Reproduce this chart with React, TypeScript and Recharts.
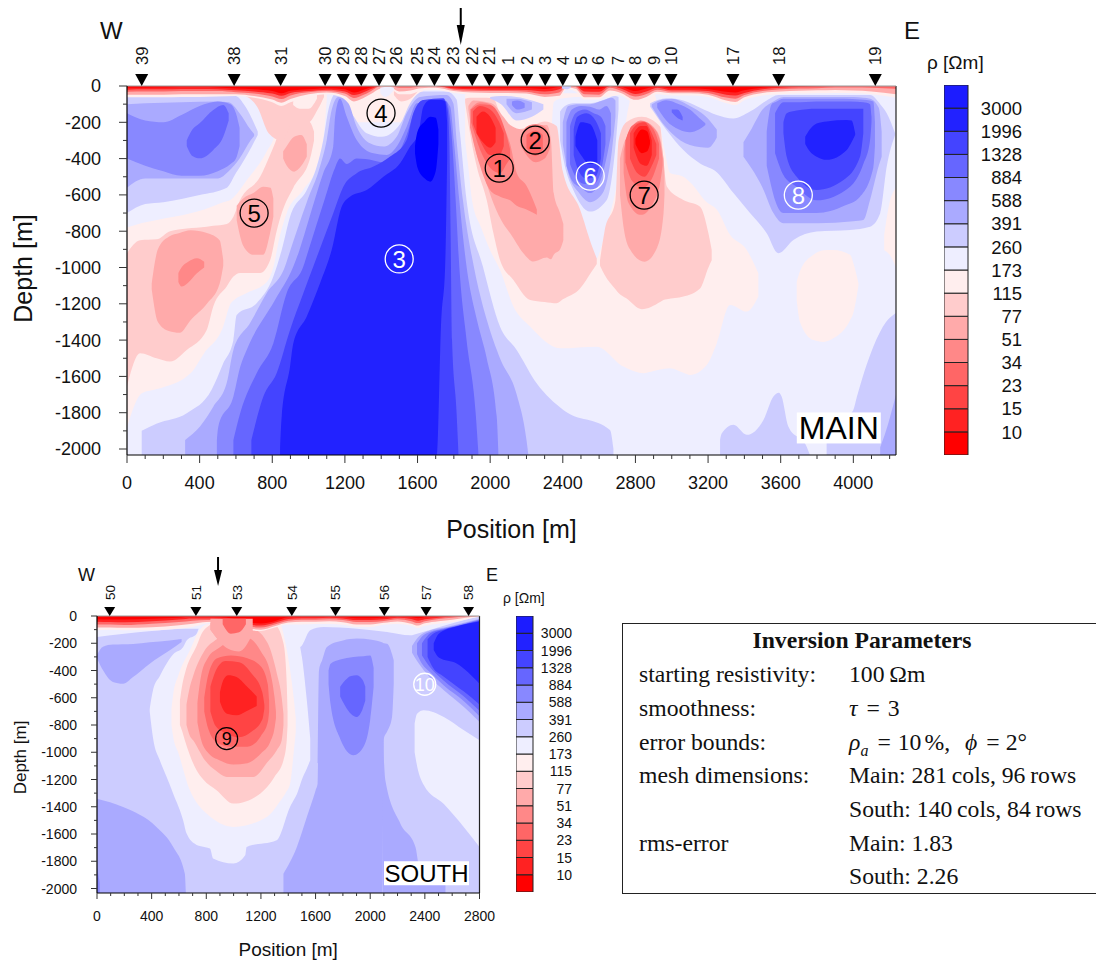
import { Area, Bar, BarChart, ComposedChart, Label, ReferenceLine, Scatter, XAxis, YAxis } from "recharts";

const SANS = '"Liberation Sans", Arial, sans-serif';
const SERIF = '"Liberation Serif", "Times New Roman", serif';

// contour class colours, red (low rho) to blue (high rho)
const R0 = "#ff0000";
const R1 = "#ff2222";
const R2 = "#ff4444";
const R3 = "#ff6666";
const R4 = "#ff8888";
const R5 = "#ffaaaa";
const R6 = "#ffcccc";
const R7 = "#ffeeee";
const B7 = "#eeeeff";
const B6 = "#ccccff";
const B5 = "#aaaaff";
const B4 = "#8888ff";
const B3 = "#6666ff";
const B2 = "#4444ff";
const B1 = "#2222ff";
const B0 = "#0000ff";

const barColors = [R0, R1, R2, R3, R4, R5, R6, R7, B7, B6, B5, B4, B3, B2, B1, "#1c1cff"];
const rhoLabels = ["10", "15", "23", "34", "51", "77", "115", "173", "260", "391", "588", "884", "1328", "1996", "3000"];

const mainElectrodes = [
  ["39", 81], ["38", 590], ["31", 846], ["30", 1091], ["29", 1191], ["28", 1290], ["27", 1388], ["26", 1480],
  ["25", 1596], ["24", 1693], ["23", 1798], ["22", 1901], ["21", 1995], ["1", 2096], ["2", 2202], ["3", 2303],
  ["4", 2400], ["5", 2500], ["6", 2595], ["7", 2703], ["8", 2799], ["9", 2904], ["10", 2996], ["17", 3337],
  ["18", 3589], ["19", 4121],
];
const southElectrodes = [["50", 93], ["51", 724], ["53", 1023], ["54", 1426], ["55", 1746], ["56", 2103], ["57", 2409], ["58", 2720]];

// numbered anomalies: [number, position, depth, colour]
const mainNotes = [
  ["1", 2050, -452, "#000"], ["2", 2248, -298, "#000"], ["3", 1499, -953, "#fff"], ["4", 1399, -149, "#000"],
  ["5", 700, -700, "#000"], ["6", 2551, -496, "#fff"], ["7", 2848, -601, "#000"], ["8", 3697, -601, "#fff"],
];
const southNotes = [["9", 949, -900, "#000"], ["10", 2399, -501, "#fff"]];

// contour bands below: [position m, top depth m, bottom depth m]
const mBase = [[0, 0, 2033], [4235, 0, 2033]];

const mR7West = [[0, 780, 1880], [82, 755, 1693], [165, 738, 1670], [350, 701, 1582], [425, 680, 1472], [530, 640, 1325], [570, 628, 1200], [590, 610, 1179], [660, 518, 1140], [770, 360, 1080], [815, 260, 960], [830, 40, 880], [880, 40, 700], [970, 40, 573], [1045, 40, 444], [1085, 40, 260], [1100, 40, 77]];
const mR7Notch = [[1160, 20, 200], [1630, 20, 200]];
const mR7East = [[1862, 50, 300], [1880, 40, 450], [1900, 40, 630], [1950, 40, 780], [1999, 40, 903], [2054, 40, 1013], [2128, 40, 1215], [2220, 40, 1325], [2385, 40, 1445], [2587, 40, 1436], [2734, 40, 1546], [2844, 40, 1582], [2900, 40, 1570], [2960, 350, 1558], [2991, 480, 1555], [3064, 500, 1580], [3101, 530, 1592], [3193, 640, 1537], [3248, 680, 1417], [3321, 820, 1206], [3413, 903, 1243], [3477, 1032, 1160]];
const mR7Lobe = [[3688, 1080, 1180], [3706, 1020, 1300], [3780, 930, 1400], [3835, 905, 1410], [3890, 903, 1390], [3982, 930, 1290], [4000, 975, 1250], [4028, 1085, 1100]];
const mR7Edge = [[4170, 820, 905], [4200, 640, 930], [4235, 560, 1000]];
const mB7Six = [[2339, 230, 370], [2350, 90, 420], [2385, 70, 554], [2495, 60, 720], [2578, 60, 958], [2642, 60, 775], [2715, 50, 444], [2752, 50, 169], [2770, 50, 77]];
const mR7Spot = [[915, 85, 105], [950, 62, 125], [1000, 48, 125], [1046, 50, 70]];

const mR6West = [[0, 921, 1656], [72, 850, 1472], [163, 845, 1500], [237, 800, 1518], [329, 785, 1454], [439, 775, 1344], [475, 770, 1215], [549, 760, 1105], [586, 720, 1050], [622, 630, 1030], [733, 500, 1030], [788, 380, 960], [824, 290, 800], [852, 200, 700], [916, 160, 560], [1008, 200, 400], [1030, 250, 300]];
const mR6Near31 = [[640, 40, 50], [720, 40, 120], [780, 40, 260], [852, 40, 300], [916, 40, 200], [1000, 40, 200], [1050, 40, 130], [1085, 40, 60]];
const mR6Notch = [[1470, 20, 50], [1510, 15, 85], [1560, 15, 70], [1600, 15, 30]];
const mR6One = [[1862, 70, 90], [1889, 65, 260], [1926, 65, 444], [1981, 65, 628], [2018, 70, 811], [2054, 150, 958], [2128, 240, 1069], [2220, 225, 1179], [2300, 195, 1190], [2366, 220, 1197], [2400, 470, 1175], [2495, 680, 1115], [2560, 880, 1020], [2587, 950, 980]];
const mR6Seven = [[2605, 960, 990], [2630, 800, 1040], [2690, 630, 1120], [2707, 300, 1140], [2750, 200, 1170], [2835, 170, 1230], [2936, 224, 1190], [2954, 408, 1179], [2973, 554, 1175], [3064, 628, 1160], [3156, 665, 1115], [3202, 811, 1000], [3220, 903, 960]];

const mR5West = [[136, 1090, 1120], [170, 900, 1300], [230, 830, 1350], [290, 810, 1360], [350, 795, 1290], [440, 810, 1200], [510, 850, 1090], [530, 960, 990]];
const mR5Five = [[604, 660, 740], [640, 620, 880], [696, 590, 930], [750, 555, 930], [790, 560, 800], [806, 620, 720]];
const mR5Near31 = [[860, 360, 400], [880, 330, 440], [920, 280, 472], [960, 270, 440], [990, 320, 390]];
const mR5One = [[1880, 110, 130], [1907, 80, 297], [1963, 85, 481], [2018, 100, 646], [2073, 170, 760], [2110, 215, 811], [2183, 240, 921], [2238, 215, 967], [2312, 215, 945], [2335, 300, 955], [2350, 590, 930], [2385, 700, 900], [2403, 760, 850]];
const mR5Seven = [[2715, 400, 600], [2735, 320, 780], [2770, 260, 900], [2850, 200, 968], [2920, 250, 890], [2955, 400, 700], [2960, 500, 600]];

const mR4West = [[283, 1030, 1080], [300, 1000, 1105], [335, 970, 1085], [385, 949, 1032], [425, 968, 1000]];
const mR4One = [[1889, 130, 230], [1944, 90, 440], [2000, 100, 575], [2055, 190, 610], [2110, 320, 630], [2146, 480, 660], [2200, 550, 680], [2257, 680, 710]];
const mR4Two = [[2169, 280, 330], [2200, 225, 380], [2250, 210, 420], [2300, 225, 400], [2330, 280, 340]];
const mR4Seven = [[2735, 360, 480], [2760, 260, 640], [2830, 190, 710], [2900, 230, 640], [2935, 300, 540], [2950, 400, 440]];
const mR3One = [[1895, 130, 200], [1944, 100, 350], [2000, 105, 450], [2055, 170, 480], [2090, 270, 430], [2110, 350, 400]];
const mR3Two = [[2200, 270, 340], [2250, 245, 385], [2290, 270, 350]];
const mR3Seven = [[2745, 300, 420], [2780, 220, 520], [2840, 195, 560], [2900, 240, 490], [2930, 320, 400]];
const mR2One = [[1905, 140, 210], [1944, 110, 300], [2000, 130, 380], [2050, 200, 380], [2075, 260, 330]];
const mR2Seven = [[2770, 260, 400], [2810, 210, 480], [2850, 200, 500], [2890, 260, 440], [2915, 320, 380]];
const mR1One = [[1925, 170, 260], [1960, 140, 310], [2000, 170, 340], [2030, 230, 310]];
const mR1Seven = [[2790, 260, 340], [2830, 220, 430], [2860, 220, 440], [2890, 300, 380]];
const mR0Seven = [[2800, 290, 320], [2835, 240, 370], [2865, 250, 360], [2880, 300, 320]];

const mB6Center = [[81, 1900, 2033], [165, 1860, 2033], [329, 1803, 2033], [466, 1674, 2033], [530, 1528, 2033], [586, 1399, 2033], [604, 1261, 2033], [714, 1197, 2033], [806, 1050, 2033], [852, 903, 2033], [898, 720, 2033], [990, 573, 2033], [1045, 444, 2033], [1081, 297, 2033], [1109, 132, 2033], [1146, 45, 2033], [1192, 70, 2033], [1247, 165, 2033], [1320, 260, 2033], [1403, 280, 2033], [1504, 210, 2033], [1559, 95, 2033], [1632, 30, 2033], [1760, 30, 2033], [1815, 75, 2033], [1834, 260, 2033], [1870, 630, 2033], [1960, 995, 2033], [2054, 1325, 2033], [2146, 1454, 2033], [2256, 1638, 2033], [2403, 1785, 2033], [2660, 1895, 2033], [2679, 2000, 2033]];
const mB6West = [[0, 60, 700], [100, 55, 650], [200, 50, 640], [400, 50, 600], [550, 50, 560], [600, 55, 480], [650, 110, 400], [720, 250, 270]];
const mB6East = [[2881, 95, 115], [2973, 68, 245], [3064, 80, 353], [3156, 120, 427], [3248, 160, 475], [3340, 179, 590], [3431, 141, 700], [3523, 80, 811], [3587, 50, 921], [3670, 50, 848], [3798, 50, 802], [3982, 50, 793], [4092, 50, 775], [4148, 100, 701], [4184, 150, 444], [4230, 260, 270]];
const mB6Six = [[2385, 140, 300], [2412, 110, 444], [2458, 95, 573], [2550, 95, 692], [2642, 70, 628], [2688, 55, 352], [2707, 60, 130]];
const mB6Small = [[2000, 60, 70], [2060, 55, 100], [2146, 60, 190], [2230, 80, 170], [2293, 100, 130]];
const mB6FarEast = [[3853, 1950, 2033], [3900, 1880, 2033], [4000, 1785, 2033], [4020, 1711, 2033], [4110, 1436, 2033], [4180, 1300, 2033], [4235, 1250, 2033]];
const mB6Bottom = [[3266, 1950, 2033], [3275, 1915, 2033], [3340, 1867, 2033], [3413, 1922, 2033], [3505, 1840, 2033], [3560, 1711, 2033], [3590, 1690, 2033], [3605, 1711, 2033], [3642, 1876, 2033], [3743, 1987, 2033], [3760, 2030, 2033]];

const mB5Center = [[320, 1950, 2033], [402, 1876, 2033], [476, 1766, 2033], [549, 1637, 2033], [586, 1454, 2033], [677, 1307, 2033], [769, 1142, 2033], [870, 995, 2033], [900, 903, 2033], [990, 640, 2033], [1063, 444, 2033], [1100, 297, 2033], [1127, 132, 2033], [1164, 60, 2033], [1219, 95, 2033], [1265, 224, 2033], [1338, 316, 2033], [1412, 334, 2033], [1485, 280, 2033], [1540, 150, 2033], [1614, 60, 2033], [1760, 50, 2033], [1797, 95, 2033], [1815, 300, 2033], [1850, 630, 2033], [1910, 995, 2033], [1985, 1300, 2033], [2054, 1500, 2033], [2146, 1700, 2033], [2200, 1950, 2033], [2210, 2030, 2033]];
const mB5West = [[0, 100, 560], [100, 95, 510], [300, 90, 510], [500, 85, 510], [560, 90, 470], [620, 150, 400], [680, 240, 300], [700, 265, 275]];
const mB5Ten = [[2890, 100, 115], [2950, 75, 205], [3000, 70, 260], [3100, 110, 325], [3200, 180, 340], [3248, 240, 285]];
const mB5Eight = [[3395, 310, 390], [3440, 235, 455], [3500, 130, 560], [3560, 85, 700], [3615, 60, 756], [3800, 60, 756], [4000, 60, 745], [4055, 65, 738], [4092, 70, 628], [4140, 120, 440], [4156, 250, 390]];
const mB5Six = [[2400, 200, 320], [2430, 110, 480], [2490, 100, 590], [2550, 100, 640], [2620, 80, 590], [2670, 65, 360], [2690, 80, 170]];
const mB5Small = [[2090, 70, 100], [2146, 70, 150], [2230, 90, 130]];
const mB5FarEast = [[4148, 1990, 2033], [4180, 1900, 2033], [4203, 1821, 2033], [4235, 1700, 2033]];

const mB4Center = [[495, 1950, 2033], [503, 1876, 2033], [586, 1711, 2033], [624, 1546, 2033], [659, 1454, 2033], [815, 1179, 2033], [916, 995, 2033], [950, 903, 2033], [1000, 740, 2033], [1081, 480, 2033], [1136, 334, 2033], [1146, 169, 2033], [1173, 70, 2033], [1210, 169, 2033], [1265, 297, 2033], [1357, 371, 2033], [1430, 380, 2033], [1485, 334, 2033], [1540, 224, 2033], [1596, 95, 2033], [1742, 77, 2033], [1780, 115, 2033], [1800, 300, 2033], [1830, 630, 2033], [1870, 995, 2033], [1930, 1300, 2033], [1981, 1500, 2033], [2036, 1821, 2033], [2045, 2020, 2033]];
const mB4West = [[0, 150, 400], [100, 190, 440], [200, 200, 470], [300, 160, 495], [400, 110, 495], [500, 85, 470], [570, 100, 430], [600, 150, 400], [620, 230, 330]];
const mB4Ten = [[2920, 95, 120], [2970, 78, 190], [3040, 100, 240], [3100, 130, 255], [3150, 175, 240], [3185, 205, 215]];
const mB4Eight = [[3523, 250, 440], [3550, 100, 560], [3569, 90, 630], [3615, 70, 700], [3798, 70, 700], [3950, 70, 660], [4037, 75, 610], [4110, 85, 450], [4119, 200, 330]];
const mB4Six = [[2420, 200, 440], [2450, 130, 520], [2500, 110, 560], [2550, 115, 590], [2600, 130, 540], [2640, 110, 400], [2665, 150, 270]];
const mB4Small = [[2120, 85, 105], [2150, 80, 130], [2190, 95, 120]];

const mB3Center = [[586, 1950, 2033], [624, 1800, 2033], [714, 1582, 2033], [806, 1417, 2033], [879, 1142, 2033], [971, 995, 2033], [1000, 903, 2033], [1090, 620, 2033], [1146, 450, 2033], [1173, 400, 2033], [1210, 430, 2033], [1265, 400, 2033], [1357, 410, 2033], [1403, 420, 2033], [1485, 380, 2033], [1540, 270, 2033], [1590, 120, 2033], [1632, 80, 2033], [1760, 85, 2033], [1770, 120, 2033], [1790, 300, 2033], [1810, 630, 2033], [1830, 995, 2033], [1870, 1400, 2033], [1920, 1800, 2033], [1935, 2020, 2033]];
const mB3West = [[329, 300, 330], [360, 240, 385], [400, 205, 398], [475, 132, 352], [530, 105, 280], [560, 150, 190]];
const mB3Ten = [[3000, 130, 145], [3030, 130, 175], [3060, 170, 190]];
const mB3Eight = [[3569, 150, 370], [3615, 90, 490], [3680, 90, 550], [3798, 85, 630], [3982, 85, 555], [4055, 90, 430], [4092, 100, 300], [4100, 170, 200]];
const mB3Six = [[2440, 220, 430], [2470, 150, 500], [2520, 130, 540], [2570, 150, 540], [2610, 170, 470], [2635, 220, 320]];

const mB2Center = [[685, 1950, 2033], [751, 1711, 2033], [824, 1582, 2033], [898, 1344, 2033], [971, 1142, 2033], [1026, 995, 2033], [1060, 903, 2033], [1136, 701, 2033], [1192, 554, 2033], [1265, 481, 2033], [1357, 444, 2033], [1449, 389, 2033], [1540, 297, 2033], [1577, 150, 2033], [1632, 77, 2033], [1742, 68, 2033], [1765, 125, 2033], [1775, 300, 2033], [1782, 800, 2033], [1790, 1400, 2033], [1815, 1800, 2033], [1825, 2020, 2033]];
const mB2Eight = [[3615, 200, 260], [3633, 150, 390], [3688, 135, 500], [3798, 125, 573], [3946, 125, 518], [4037, 125, 390], [4055, 125, 260]];
const mB2Six = [[2460, 240, 380], [2480, 170, 450], [2530, 150, 510], [2580, 190, 500], [2610, 260, 400]];

const mB1Center = [[843, 2000, 2033], [852, 1821, 2033], [898, 1546, 2033], [916, 1417, 2033], [990, 1270, 2033], [1063, 1087, 2033], [1127, 903, 2033], [1182, 665, 2033], [1228, 610, 2033], [1320, 573, 2033], [1412, 500, 2033], [1504, 426, 2033], [1559, 334, 2033], [1605, 260, 2033], [1632, 114, 2033], [1669, 77, 2033], [1706, 77, 2033], [1730, 77, 1300], [1752, 85, 995], [1763, 200, 400]];
const mB1Eight = [[3735, 280, 320], [3760, 240, 360], [3798, 206, 390], [3853, 195, 407], [3964, 187, 352], [3990, 190, 310], [4010, 260, 270]];
const mB1Six = [[2470, 280, 330], [2500, 200, 380], [2550, 210, 430], [2590, 300, 420]];
const mB0Core = [[1586, 330, 370], [1600, 250, 450], [1640, 195, 510], [1670, 170, 527], [1700, 175, 470], [1715, 240, 320]];
const mSurfaceGapA = [[1395, 10, 40], [1420, 5, 60], [1450, 5, 45], [1470, 10, 20]];
const mSurfaceGapB = [[2395, 0, 14], [2420, 0, 18], [2445, 0, 8]];

// near-surface conductor: [position, depth of the five strip contours]
const mSurface = [
  [0, 62, 48, 32, 20, 10], [100, 62, 48, 30, 18, 9], [200, 62, 48, 30, 18, 8], [300, 60, 46, 28, 16, 6], [400, 60, 45, 28, 16, 6],
  [500, 58, 45, 28, 18, 8], [600, 55, 45, 34, 24, 14], [700, 65, 55, 42, 30, 18], [800, 90, 75, 58, 42, 28], [850, 110, 92, 72, 54, 40],
  [900, 90, 72, 52, 38, 26], [1000, 60, 45, 35, 28, 18], [1100, 45, 36, 28, 20, 12], [1200, 70, 55, 42, 30, 18], [1250, 105, 85, 66, 50, 36],
  [1300, 85, 68, 50, 36, 22], [1340, 60, 46, 30, 18, 8], [1400, 22, 12, 0, 0, 0], [1450, 18, 8, 0, 0, 0], [1500, 45, 30, 10, 0, 0], [1560, 45, 25, 10, 0, 0],
  [1620, 25, 12, 3, 0, 0], [1700, 22, 10, 2, 0, 0], [1800, 38, 28, 20, 14, 7], [1900, 48, 36, 26, 18, 10], [2000, 50, 38, 28, 20, 10],
  [2100, 50, 38, 28, 20, 10], [2200, 55, 42, 32, 22, 11], [2300, 75, 60, 46, 30, 16], [2380, 72, 54, 36, 18, 5], [2420, 18, 8, 0, 0, 0],
  [2470, 30, 15, 5, 0, 0], [2520, 75, 62, 46, 30, 14], [2600, 75, 62, 48, 32, 16], [2660, 40, 25, 10, 0, 0], [2720, 52, 38, 26, 14, 4],
  [2800, 92, 76, 58, 44, 28], [2860, 78, 60, 44, 30, 14], [2920, 45, 32, 20, 10, 3], [3000, 52, 40, 32, 24, 14], [3100, 52, 40, 32, 24, 13],
  [3200, 60, 48, 38, 28, 18], [3300, 95, 80, 64, 48, 32], [3350, 105, 88, 70, 52, 36], [3400, 78, 62, 50, 38, 24], [3500, 52, 38, 28, 18, 9],
  [3600, 45, 30, 18, 10, 3], [3700, 42, 26, 14, 6, 0], [3800, 40, 24, 12, 3, 0], [3900, 38, 22, 8, 0, 0], [4000, 40, 25, 8, 0, 0],
  [4100, 45, 30, 10, 0, 0], [4235, 65, 45, 15, 0, 0],
];

// south profile
const sBase = [[0, 0, 2033], [2800, 0, 2033]];
const sB7Strip = [[0, 0, 154], [400, 0, 110], [650, 0, 93], [1400, 0, 93], [1487, 0, 227], [1561, 0, 105], [1658, 0, 81], [1903, 0, 93], [2123, 0, 117], [2294, 0, 142], [2343, 0, 130], [2441, 0, 100], [2636, 0, 44], [2800, 0, 2]];
const sB7Center = [[386, 680, 700], [411, 540, 900], [460, 440, 1059], [509, 350, 1180], [558, 280, 1304], [631, 227, 1500], [656, 180, 1597], [729, 130, 1680], [760, 60, 1690], [827, 50, 1707], [850, 40, 1780], [998, 40, 1817], [1085, 40, 1756], [1095, 40, 1696], [1315, 40, 1646], [1413, 40, 1402], [1470, 150, 1290], [1500, 300, 1200], [1536, 619, 1120], [1561, 900, 1059]];
const sB7East = [[2325, 790, 1000], [2343, 717, 1100], [2392, 692, 1240], [2539, 741, 1380], [2686, 839, 1550], [2800, 912, 1695]];
const sR7 = [[545, 680, 800], [560, 560, 900], [594, 440, 1000], [680, 252, 1279], [753, 100, 1400], [802, 60, 1450], [998, 40, 1548], [1243, 40, 1475], [1340, 60, 1360], [1380, 200, 1300], [1414, 400, 1230], [1440, 600, 1000], [1455, 750, 850]];
const sR6 = [[607, 620, 800], [625, 500, 850], [643, 423, 912], [729, 220, 1132], [778, 110, 1200], [875, 50, 1279], [998, 40, 1377], [1194, 40, 1304], [1300, 60, 1180], [1365, 200, 1059], [1389, 500, 912], [1395, 700, 800]];
const sR5 = [[655, 650, 800], [680, 520, 880], [704, 440, 912], [790, 250, 1059], [876, 170, 1140], [949, 120, 1181], [1145, 100, 1181], [1250, 200, 1070], [1316, 420, 985], [1352, 600, 912], [1365, 720, 800]];
const sR5Top = [[830, 20, 100], [960, 20, 240], [1040, 20, 260], [1140, 20, 130]];
const sR4 = [[735, 640, 780], [760, 450, 900], [810, 310, 1000], [900, 230, 1060], [1000, 170, 1090], [1100, 160, 1080], [1200, 260, 1010], [1270, 420, 920], [1300, 600, 820], [1310, 700, 750]];
const sR3 = [[785, 600, 700], [815, 430, 830], [880, 310, 930], [980, 290, 960], [1100, 310, 960], [1200, 370, 880], [1250, 500, 780], [1260, 620, 700]];
const sR3Top = [[920, 20, 60], [980, 20, 130], [1040, 20, 120], [1090, 20, 60]];
const sR2 = [[830, 520, 700], [870, 400, 810], [940, 330, 860], [1040, 340, 890], [1130, 420, 850], [1210, 560, 760], [1225, 650, 680]];
const sR1 = [[900, 560, 630], [925, 470, 690], [960, 435, 720], [1022, 448, 729], [1090, 510, 700], [1169, 590, 660]];
const sB5West = [[0, 285, 310], [44, 225, 399], [117, 210, 484], [191, 207, 497], [264, 205, 448], [386, 193, 350], [533, 180, 252], [619, 168, 191]];
const sB5Floor = [[0, 1341, 2033], [191, 1402, 2033], [435, 1548, 2033], [558, 1695, 2033], [643, 1891, 2033], [650, 2020, 2033]];
const sB5Center = [[1365, 1891, 2033], [1463, 1695, 2033], [1536, 1475, 2033], [1600, 1280, 2033], [1615, 1230, 2033], [1625, 400, 2033], [1650, 320, 2033], [1683, 227, 2033], [1800, 180, 2033], [1903, 166, 2033], [2010, 175, 2033], [2090, 195, 2033], [2100, 200, 900], [2123, 203, 850], [2160, 280, 741], [2172, 325, 500]];
const sB5Lower = [[2090, 800, 2033], [2111, 1206, 2033], [2221, 1524, 2033], [2331, 1695, 2033], [2368, 1891, 2033], [2551, 1964, 2033]];
const sB5Corner = [[2306, 220, 270], [2343, 166, 330], [2441, 105, 455], [2539, 85, 545], [2686, 50, 668], [2800, 20, 778]];
const sB4Floor = [[0, 1840, 2033], [20, 1960, 2033]];
const sB4Center = [[1695, 400, 500], [1710, 350, 650], [1780, 320, 900], [1878, 300, 1022], [1951, 295, 960], [2000, 290, 760], [2025, 380, 520]];
const sB4Corner = [[2343, 200, 280], [2379, 150, 350], [2441, 115, 415], [2539, 90, 510], [2686, 55, 625], [2800, 25, 735]];
const sB3Center = [[1780, 520, 590], [1817, 472, 660], [1860, 440, 720], [1900, 435, 741], [1945, 470, 680], [1964, 520, 620]];
const sB3Corner = [[2379, 200, 290], [2441, 125, 380], [2539, 95, 475], [2686, 60, 590], [2800, 30, 695]];
const sB2Corner = [[2420, 170, 300], [2460, 130, 380], [2539, 100, 445], [2686, 65, 555], [2800, 35, 650]];
const sB1Corner = [[2465, 200, 250], [2502, 130, 305], [2636, 75, 350], [2800, 40, 497]];

const sSurface = [
  [0, 105, 84, 62, 42, 24], [100, 100, 84, 62, 44, 26], [200, 105, 86, 66, 46, 26], [400, 105, 82, 56, 38, 20], [600, 92, 68, 44, 26, 12],
  [700, 80, 56, 34, 18, 6], [800, 55, 44, 30, 18, 6], [900, 48, 42, 32, 20, 10], [1000, 64, 58, 46, 34, 20], [1100, 100, 90, 75, 60, 45],
  [1200, 110, 100, 85, 70, 55], [1300, 85, 75, 62, 50, 38], [1400, 62, 48, 34, 22, 10], [1500, 62, 42, 28, 16, 6], [1600, 58, 42, 28, 16, 6],
  [1700, 58, 38, 24, 12, 3], [1800, 64, 46, 30, 18, 7], [1900, 80, 62, 44, 30, 16], [2000, 80, 62, 44, 30, 16], [2100, 64, 50, 36, 24, 11],
  [2200, 58, 40, 24, 12, 3], [2300, 72, 56, 38, 22, 9], [2350, 88, 70, 52, 34, 16], [2400, 72, 54, 38, 24, 10], [2500, 56, 38, 22, 12, 4],
  [2600, 45, 28, 12, 4, 0], [2700, 25, 12, 4, 0, 0], [2800, 5, 2, 0, 0, 0],
];

const tableLeft = ["starting resistivity:", "smoothness:", "error bounds:", "mesh dimensions:", "", "rms-error", ""];
const tableCenters = [673, 707, 741, 774, 808, 842, 875];
const surfaceColors = [R7, R5, R3, R1, R0];

const mainLayers = [
  [B7, mBase], [R7, mR7West], [R7, mR7Notch], [R7, mR7East], [R7, mR7Lobe], [R7, mR7Edge], [B7, mB7Six],
  [R6, mR6West], [R6, mR6Near31], [R7, mR7Spot], [R6, mR6Notch], [R6, mR6One], [R6, mR6Seven],
  [R5, mR5West], [R5, mR5Five], [R5, mR5Near31], [R5, mR5One], [R5, mR5Seven],
  [R4, mR4West], [R4, mR4One], [R4, mR4Two], [R4, mR4Seven], [R3, mR3One], [R3, mR3Two], [R3, mR3Seven],
  [R2, mR2One], [R2, mR2Seven], [R1, mR1One], [R1, mR1Seven], [R0, mR0Seven],
  [B6, mB6Center], [B6, mB6West], [B6, mB6East], [B6, mB6Six], [B6, mB6Small], [B6, mB6FarEast], [B6, mB6Bottom],
  [B5, mB5Center], [B5, mB5West], [B5, mB5Ten], [B5, mB5Eight], [B5, mB5Six], [B5, mB5Small], [B5, mB5FarEast],
  [B4, mB4Center], [B4, mB4West], [B4, mB4Ten], [B4, mB4Eight], [B4, mB4Six], [B4, mB4Small],
  [B3, mB3Center], [B3, mB3West], [B3, mB3Ten], [B3, mB3Eight], [B3, mB3Six],
  [B2, mB2Center], [B2, mB2Eight], [B2, mB2Six], [B1, mB1Center], [B1, mB1Eight], [B1, mB1Six], [B0, mB0Core],
];

const southLayers = [
  [B6, sBase], [B7, sB7Strip], [B7, sB7Center], [B7, sB7East],
  [R7, sR7], [R6, sR6], [R5, sR5], [R5, sR5Top], [R4, sR4], [R3, sR3], [R3, sR3Top], [R2, sR2], [R1, sR1],
  [B5, sB5West], [B5, sB5Floor], [B5, sB5Center], [B5, sB5Lower], [B5, sB5Corner],
  [B4, sB4Floor], [B4, sB4Center], [B4, sB4Corner], [B3, sB3Center], [B3, sB3Corner], [B2, sB2Corner], [B1, sB1Corner],
];

const steps = (from, to, step) => {
  const out = [];
  for (let v = from; v <= to; v += step) out.push(v);
  return out;
};

const toRows = (rows) => rows.map(([x, top, bottom]) => ({ x, band: [-bottom, -top] }));
const surfaceRows = (rows, i) => rows.map((r) => ({ x: r[0], band: [-r[i + 1], 0] }));

const band = (color, data, key) => (
  <Area
    key={key}
    data={data}
    dataKey="band"
    type="monotone"
    fill={color}
    fillOpacity={1}
    stroke="none"
    dot={false}
    activeDot={false}
    isAnimationActive={false}
  />
);

function Panel({ left, top, width, height, margin, yWidth, xHeight, xMax, yTicksEnd, layers, surface, patches, electrodes, notes, arrowAt, s }) {
  const XTick = ({ x, y, payload }) => {
    const major = payload.value % 400 === 0;
    return (
      <g>
        <line x1={x} x2={x} y1={y} y2={y + (major ? s.major : s.minor)} stroke="#333" strokeWidth={1} />
        {major && (
          <text x={x} y={y + s.xLabel} textAnchor="middle" fontSize={s.tick} fontFamily={SANS} fill="#111">
            {payload.value}
          </text>
        )}
      </g>
    );
  };
  const YTick = ({ x, y, payload }) => {
    const major = payload.value % 200 === 0;
    return (
      <g>
        <line x1={x} x2={x - (major ? s.major : s.minor)} y1={y} y2={y} stroke="#333" strokeWidth={1} />
        {major && (
          <text x={x - s.yLabel} y={y + s.tick * 0.36} textAnchor="end" fontSize={s.tick} fontFamily={SANS} fill="#111">
            {payload.value}
          </text>
        )}
      </g>
    );
  };
  const Electrode = ({ cx, cy, payload }) => (
    <g>
      <path d={`M${cx} ${cy} L${cx - s.tri} ${cy - s.triH} L${cx + s.tri} ${cy - s.triH} Z`} fill="#000" />
      <text
        transform={`translate(${cx + s.elec * 0.36} ${cy - s.triH - s.elecGap}) rotate(-90)`}
        fontSize={s.elec}
        fontFamily={SANS}
        fill="#111"
      >
        {payload.name}
      </text>
    </g>
  );
  const Note = ({ cx, cy, payload }) => (
    <g>
      <circle cx={cx} cy={cy} r={s.noteR} fill="none" stroke={payload.color} strokeWidth={1.3} />
      <text x={cx} y={cy + s.noteF * 0.36} textAnchor="middle" fontSize={s.noteF} fontFamily={SANS} fill={payload.color}>
        {payload.name}
      </text>
    </g>
  );
  const Arrow = ({ cx, cy }) => (
    <g>
      <line x1={cx} x2={cx} y1={cy - s.arrowTail} y2={cy - s.arrowTip - 10} stroke="#000" strokeWidth={2} />
      <path d={`M${cx} ${cy - s.arrowTip} L${cx - 4} ${cy - s.arrowTip - s.headH} L${cx + 4} ${cy - s.arrowTip - s.headH} Z`} fill="#000" />
    </g>
  );
  const Tag = ({ cx, cy, payload }) => (
    <g>
      <rect x={cx - s.tagW / 2} y={cy - s.tagH / 2} width={s.tagW} height={s.tagH} fill="#fff" />
      <text x={cx} y={cy + s.tagF * 0.36} textAnchor="middle" fontSize={s.tagF} fontFamily={SANS} fill="#000">
        {payload.name}
      </text>
    </g>
  );
  return (
    <div style={{ position: "absolute", left, top }}>
      <ComposedChart width={width} height={height} margin={margin}>
        <XAxis
          dataKey="x"
          type="number"
          domain={[0, xMax]}
          ticks={steps(0, yTicksEnd, 100)}
          interval={0}
          height={xHeight}
          tickSize={0}
          tickMargin={0}
          tickLine={false}
          axisLine={{ stroke: "#000", strokeWidth: 1.2 }}
          tick={(p) => <XTick {...p} />}
        >
          <Label value="Position [m]" position="center" dy={s.xTitleDy} fontSize={s.xTitle} fontFamily={SANS} fill="#111" />
        </XAxis>
        <YAxis
          type="number"
          domain={[-2033, 0]}
          ticks={steps(-2000, 0, 100)}
          interval={0}
          width={yWidth}
          tickSize={0}
          tickMargin={0}
          tickLine={false}
          axisLine={{ stroke: "#000", strokeWidth: 1.2 }}
          tick={(p) => <YTick {...p} />}
        >
          <Label value="Depth [m]" position="center" angle={-90} dx={s.yTitleDx} dy={s.yTitleDy} fontSize={s.yTitle} fontFamily={SANS} fill="#111" />
        </YAxis>
        {layers.map(([c, rows], i) => band(c, toRows(rows), `l${i}`))}
        {surfaceColors.map((c, i) => band(c, surfaceRows(surface, i), `s${i}`))}
        {patches.map(([c, rows], i) => band(c, toRows(rows), `p${i}`))}
        <ReferenceLine x={xMax} stroke="#222" strokeWidth={1.2} />
        <ReferenceLine y={0} stroke="#999" strokeWidth={1} />
        <Scatter data={electrodes.map(([name, x]) => ({ x, y: 0, name }))} dataKey="y" shape={(p) => <Electrode {...p} />} isAnimationActive={false} />
        <Scatter data={[{ x: arrowAt, y: 0 }]} dataKey="y" shape={(p) => <Arrow {...p} />} isAnimationActive={false} />
        <Scatter data={notes.map(([name, x, y, color]) => ({ x, y, name, color }))} dataKey="y" shape={(p) => <Note {...p} />} isAnimationActive={false} />
        <Scatter data={[{ x: s.tagX, y: s.tagY, name: s.tag }]} dataKey="y" shape={(p) => <Tag {...p} />} isAnimationActive={false} />
      </ComposedChart>
    </div>
  );
}

function ColorBar({ left, top, barWidth, height, labelWidth, fontSize }) {
  const row = { c: "rho" };
  barColors.forEach((_, i) => {
    row[`c${i}`] = 1;
  });
  return (
    <div style={{ position: "absolute", left, top }}>
      <BarChart width={barWidth + labelWidth} height={height} data={[row]} margin={{ top: 0, right: 0, bottom: 0, left: 0 }} barCategoryGap={0}>
        <XAxis dataKey="c" hide />
        <YAxis
          orientation="right"
          type="number"
          domain={[0, 16]}
          ticks={steps(1, 15, 1)}
          interval={0}
          width={labelWidth}
          axisLine={false}
          tickLine={false}
          tick={({ y, payload }) => (
            <text x={barWidth + labelWidth - 1} y={y + fontSize * 0.36} textAnchor="end" fontSize={fontSize} fontFamily={SANS} fill="#111">
              {rhoLabels[payload.value - 1]}
            </text>
          )}
        />
        {barColors.map((c, i) => (
          <Bar key={c + i} dataKey={`c${i}`} stackId="rho" fill={c} stroke="#222" strokeWidth={1} isAnimationActive={false} />
        ))}
      </BarChart>
    </div>
  );
}

const textAt = (left, top, fontSize, text) => (
  <div style={{ position: "absolute", left, top, fontFamily: SANS, fontSize, lineHeight: "1", color: "#111", whiteSpace: "nowrap" }}>{text}</div>
);

const gap = (w, text) => <span style={{ marginLeft: w }}>{text}</span>;

function ParamTable() {
  const right = [
    <>100&#8201;&Omega;m</>,
    <><i>&tau;</i>{gap(9, "=")}{gap(8, "3")}</>,
    <><i>&rho;<sub style={{ fontSize: 16, lineHeight: 0 }}>a</sub></i>{gap(9, "=")}{gap(7, "10")}{gap(3, "%,")}{gap(15, <i>&#981;</i>)}{gap(9, "=")}{gap(6, "2°")}</>,
    <>Main: 281&#8201;cols, 96&#8201;rows</>,
    <>South: 140&#8201;cols, 84&#8201;rows</>,
    <>Main: 1.83</>,
    <>South: 2.26</>,
  ];
  return (
    <div style={{ position: "absolute", left: 622, top: 623, width: 474, height: 269, borderTop: "1.3px solid #222", borderLeft: "1.3px solid #222", borderBottom: "1.3px solid #222", fontFamily: SERIF, fontSize: 23.7, lineHeight: "28px", color: "#111" }}>
      <div style={{ position: "absolute", left: 0, width: 478, top: 2, textAlign: "center", fontWeight: "bold", whiteSpace: "nowrap" }}>Inversion Parameters</div>
      {tableCenters.map((c, i) => (
        <div key={c}>
          <div style={{ position: "absolute", left: 16, top: c - 623 - 14, whiteSpace: "nowrap" }}>{tableLeft[i]}</div>
          <div style={{ position: "absolute", left: 226, top: c - 623 - 14, whiteSpace: "nowrap" }}>{right[i]}</div>
        </div>
      ))}
    </div>
  );
}

const mainStyle = { major: 8, minor: 4, xLabel: 34, yLabel: 26, tick: 18, elec: 16.5, elecGap: 9, tri: 6.5, triH: 12, xTitle: 25, yTitle: 25, xTitleDy: 32, yTitleDx: -40, yTitleDy: -2, noteR: 14, noteF: 24, arrowTail: 78, arrowTip: 41, headH: 20, tag: "MAIN", tagX: 3920, tagY: -1884, tagW: 84, tagH: 31, tagF: 32 };
const southStyle = { major: 6, minor: 3, xLabel: 28, yLabel: 20, tick: 14, elec: 13.5, elecGap: 7, tri: 5.5, triH: 9, xTitle: 19, yTitle: 17, xTitleDy: 31, yTitleDx: -29, yTitleDy: 3, noteR: 11, noteF: 18, arrowTail: 59, arrowTip: 30, headH: 16, tag: "SOUTH", tagX: 2412, tagY: -1888, tagW: 85, tagH: 24, tagF: 24 };

export default function App() {
  return (
    <div style={{ position: "absolute", left: 0, top: 0, width: 1096, height: 963, background: "#fff", overflow: "hidden" }}>
      <style>{".recharts-area-area{filter:blur(0.5px)}"}</style>
      <Panel
        left={0}
        top={0}
        width={905}
        height={545}
        margin={{ top: 86, right: 9, bottom: 5, left: 0 }}
        yWidth={127}
        xHeight={85}
        xMax={4235}
        yTicksEnd={4200}
        layers={mainLayers}
        surface={mSurface}
        patches={[[B7, mSurfaceGapA], [B6, mSurfaceGapB]]}
        electrodes={mainElectrodes}
        notes={mainNotes}
        arrowAt={1838}
        s={mainStyle}
      />
      <Panel
        left={0}
        top={550}
        width={510}
        height={410}
        margin={{ top: 66, right: 30.5, bottom: 17, left: 0 }}
        yWidth={97}
        xHeight={50}
        xMax={2800}
        yTicksEnd={2800}
        layers={southLayers}
        surface={sSurface}
        patches={[[R5, sR5Top], [R3, sR3Top]]}
        electrodes={southElectrodes}
        notes={southNotes}
        arrowAt={886}
        s={southStyle}
      />
      <ColorBar left={944} top={85} barWidth={24} height={370} labelWidth={55} fontSize={18.5} />
      <ColorBar left={516} top={616} barWidth={17} height={276} labelWidth={40} fontSize={14} />
      {textAt(100, 19, 24, "W")}
      {textAt(904, 19, 24, "E")}
      {textAt(78, 566, 18, "W")}
      {textAt(486, 566, 18, "E")}
      {textAt(927, 53, 19, "ρ [Ωm]")}
      {textAt(503, 591, 14, "ρ [Ωm]")}
      <ParamTable />
    </div>
  );
}
